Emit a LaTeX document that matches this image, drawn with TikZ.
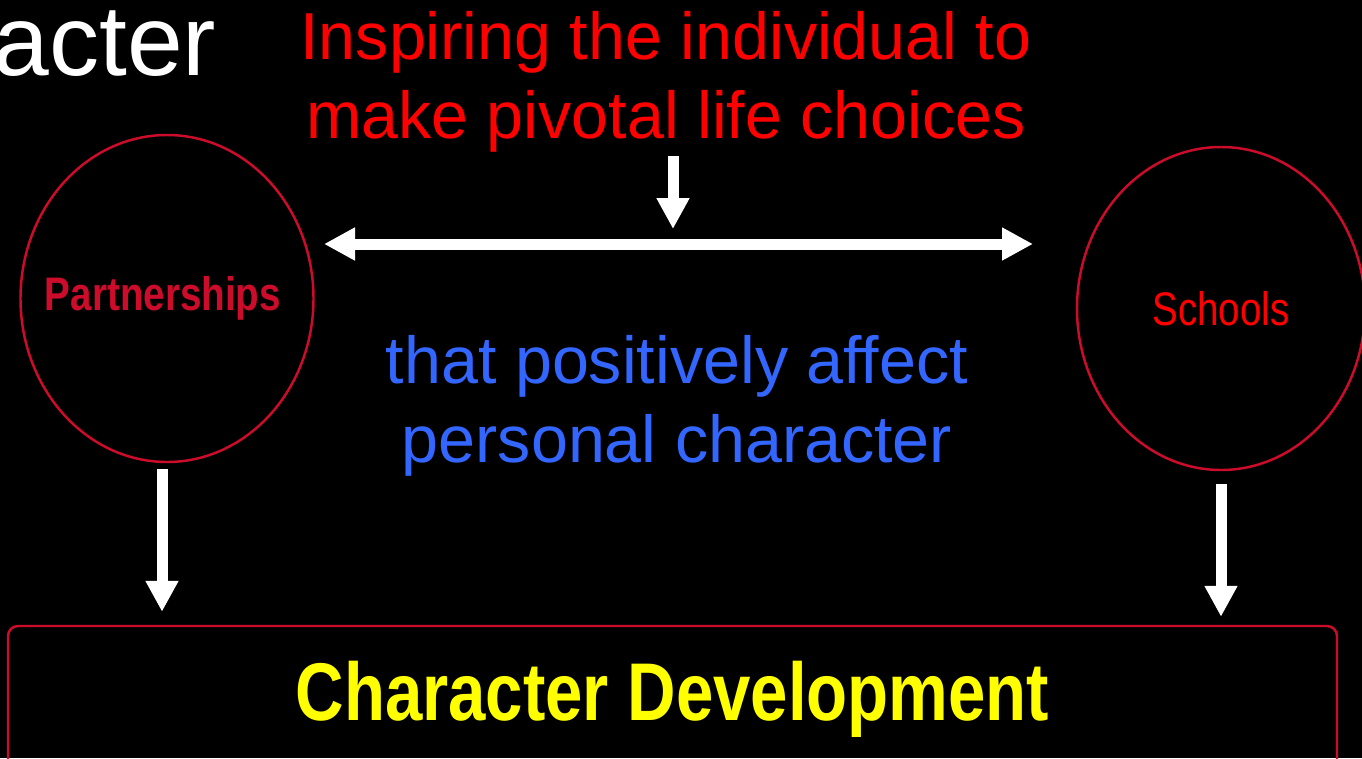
\documentclass[tikz,border=0pt]{standalone}
\usepackage{fontspec}
\setmainfont{Liberation Sans}
\newfontfamily\narrowfont[FakeStretch=0.82]{Liberation Sans}
\usetikzlibrary{shapes, arrows.meta, positioning, calc}
\definecolor{ringred}{RGB}{204, 12, 42}
\definecolor{affectblue}{RGB}{51, 102, 255}
\definecolor{goalyellow}{RGB}{255, 255, 0}

\begin{document}
\begin{tikzpicture}[
  hub/.style={ellipse, draw=ringred, line width=0.7pt, inner sep=0pt},
  flow/.style={white, line width=0.11cm, -{Triangle[length=3.1mm, width=3.1mm]}},
  big/.style={inner sep=0pt, align=center, font=\fontsize{18.9}{22.4}\selectfont},
]
% Slide background
\fill[black] (0,0) rectangle (13.62,7.58);
\useasboundingbox (0,0) rectangle (13.62,7.58);
\clip (0,0) rectangle (13.62,7.58);

% Title running off the left edge
\node[white, inner sep=0pt, anchor=base east, font=\fontsize{28.5}{34}\selectfont] (title) at (2.17,6.83) {acter};

% Top and middle statements
\node[big, red] (inspire) at (6.66,6.76) {Inspiring the individual to\\make pivotal life choices};
\node[big, affectblue] (affect) at (6.77,3.525) {that positively affect\\personal character};

% Partnerships and schools
\node[hub, minimum width=2.93cm, minimum height=3.27cm] (partner) at (1.67,4.595) {};
\node[ringred, inner sep=0pt, font={\narrowfont\bfseries\fontsize{13.4}{16}\selectfont}] (partnerlbl) at ([xshift=-0.04cm]partner.center) {Partnerships};
\node[hub, minimum width=2.88cm, minimum height=3.23cm] (school) at (12.21,4.495) {};
\node[red, inner sep=0pt, font={\narrowfont\fontsize{13.4}{16}\selectfont}] (schoollbl) at (school.center) {Schools};

% Character development box
\node[draw=ringred, line width=0.7pt, rounded corners=0.1cm, text=goalyellow,
      minimum width=13.29cm, minimum height=1.46cm, inner sep=0pt,
      font={\narrowfont\bfseries\fontsize{23.3}{28}\selectfont}] (goal) at (6.725,0.59) {Character Development};

% Arrows
\coordinate (hit) at (6.73,5.29);
\coordinate (lend) at (3.24,5.14);
\coordinate (rend) at (10.33,5.14);
\draw[flow, shorten <=0.03cm] (inspire.south -| hit) -- (hit);
\draw[flow, {Triangle[length=3.1mm, width=3.1mm]}-{Triangle[length=3.1mm, width=3.1mm]}] (lend) -- (rend);
\draw[flow, shorten <=0.06cm, shorten >=0.13cm] ([xshift=-0.05cm]partner.south) -- ([xshift=-0.05cm]partner.south |- goal.north);
\draw[flow, shorten <=0.13cm, shorten >=0.08cm] (school.south) -- (school.south |- goal.north);
\end{tikzpicture}
\end{document}
